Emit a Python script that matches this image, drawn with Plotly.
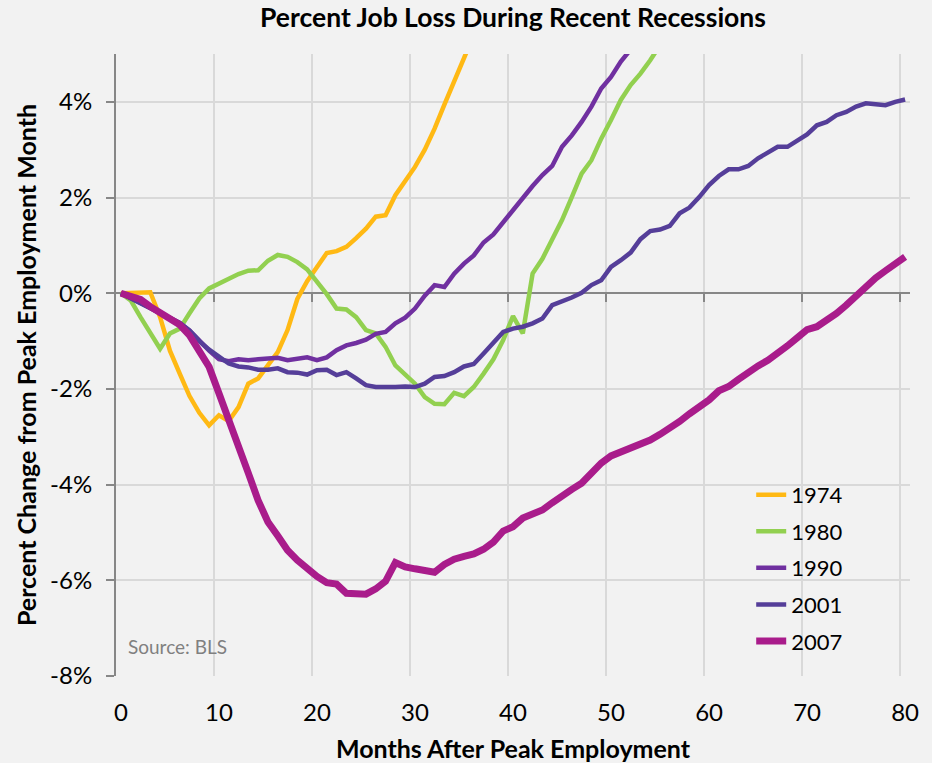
import plotly.graph_objects as go

months = list(range(0, 81))

job_1974 = [0, 0, 0, 0.02, -0.5, -1.2, -1.68, -2.15, -2.5, -2.76,
            -2.55, -2.67, -2.38, -1.89, -1.78, -1.5, -1.23, -0.77, -0.12, 0.25,
            0.55, 0.84, 0.88, 0.97, 1.15, 1.35, 1.6, 1.63, 2.05, 2.33,
            2.64, 3.0, 3.44, 3.94, 4.41, 4.89, 5.4]

job_1980 = [0, -0.15, -0.5, -0.84, -1.16, -0.84, -0.74, -0.42, -0.11, 0.1,
            0.2, 0.29, 0.4, 0.47, 0.48, 0.68, 0.8, 0.76, 0.65, 0.5,
            0.25, -0.02, -0.32, -0.34, -0.5, -0.77, -0.84, -1.12, -1.51, -1.71,
            -1.89, -2.17, -2.31, -2.32, -2.08, -2.15, -1.96, -1.68, -1.38, -0.98,
            -0.48, -0.84, 0.41, 0.72, 1.11, 1.53, 2.01, 2.5, 2.78, 3.23,
            3.62, 4.04, 4.35, 4.59, 4.87, 5.2, 5.5]

job_1990 = [0, -0.1, -0.2, -0.3, -0.4, -0.5, -0.62, -0.78, -1.0, -1.2,
            -1.38, -1.42, -1.38, -1.4, -1.38, -1.37, -1.35, -1.4, -1.38, -1.34,
            -1.4, -1.34, -1.19, -1.09, -1.04, -0.97, -0.85, -0.81, -0.63, -0.51,
            -0.32, -0.05, 0.17, 0.13, 0.41, 0.62, 0.79, 1.06, 1.23, 1.49,
            1.75, 2.01, 2.24, 2.47, 2.66, 3.06, 3.3, 3.58, 3.9, 4.28,
            4.52, 4.84, 5.1, 5.35]

job_2001 = [0, -0.1, -0.2, -0.3, -0.4, -0.5, -0.62, -0.78, -1.0, -1.18,
            -1.33, -1.47, -1.53, -1.55, -1.6, -1.6, -1.57, -1.65, -1.66, -1.7,
            -1.61, -1.6, -1.71, -1.65, -1.78, -1.92, -1.96, -1.97, -1.96, -1.95,
            -1.96, -1.89, -1.75, -1.73, -1.65, -1.53, -1.48, -1.26, -1.05, -0.81,
            -0.74, -0.7, -0.63, -0.53, -0.25, -0.18, -0.09, 0.01, 0.17, 0.27,
            0.55, 0.69, 0.85, 1.13, 1.3, 1.33, 1.41, 1.67, 1.79, 2.01,
            2.26, 2.45, 2.59, 2.59, 2.66, 2.82, 2.95, 3.06, 3.06, 3.2,
            3.32, 3.51, 3.58, 3.72, 3.79, 3.9, 3.97, 3.95, 3.93, 4.0,
            4.05]

job_2007 = [0, -0.06, -0.13, -0.28, -0.4, -0.5, -0.66, -0.88, -1.2, -1.54,
            -2.09, -2.62, -3.19, -3.76, -4.33, -4.78, -5.07, -5.37, -5.58, -5.77,
            -5.92, -6.05, -6.08, -6.27, -6.28, -6.29, -6.18, -6.02, -5.63, -5.72,
            -5.76, -5.79, -5.83, -5.67, -5.56, -5.5, -5.45, -5.35, -5.2, -4.97,
            -4.88, -4.7, -4.62, -4.53, -4.38, -4.22, -4.1, -3.97, -3.75, -3.55,
            -3.4, -3.32, -3.25, -3.18, -3.07, -2.95, -2.83, -2.68, -2.52, -2.38,
            -2.23, -2.04, -1.95, -1.8, -1.65, -1.52, -1.4, -1.26, -1.1, -0.93,
            -0.76, -0.7, -0.57, -0.42, -0.25, -0.05, 0.14, 0.32, 0.47, 0.6,
            0.76]

series_names = ["1974", "1980", "1990", "2001", "2007"]
series_values = [job_1974, job_1980, job_1990, job_2001, job_2007]
series_colors = ["#FFB914", "#92D050", "#7030A0", "#553E99", "#A91C8B"]
series_widths = [4.5, 4.5, 4.5, 4.5, 7]

y_tickvals = [-8, -6, -4, -2, 0, 2, 4]
y_ticktext = ["-8%", "-6%", "-4%", "-2%", "0%", "2%", "4%"]
x_tickvals = [0, 10, 20, 30, 40, 50, 60, 70, 80]
x_gridvals = [9.5, 19.5, 29.5, 39.5, 49.5, 59.5, 69.5, 79.5]

FONT = "Lato"
AXIS_GRAY = "#878787"
GRID = "#D9D9D9"
BG = "#F2F2F2"

fig = go.Figure()
for name, vals, col, w in zip(series_names, series_values, series_colors, series_widths):
    fig.add_trace(go.Scatter(
        x=months[:len(vals)], y=vals, mode="lines", name=name,
        legendgroup=name,
        line=dict(color=col, width=w),
    ))

# invisible helper trace for secondary x axis (grid + ticks on the 0% line)
fig.add_trace(go.Scatter(x=months, y=job_2001, xaxis="x2", mode="lines",
                         line=dict(width=0, color="rgba(0,0,0,0)"),
                         showlegend=False, hoverinfo="skip"))

fig.update_layout(
    width=932, height=763,
    margin=dict(l=116, r=22, t=54, b=87, autoexpand=False),
    paper_bgcolor=BG, plot_bgcolor=BG,
    font=dict(family=FONT, color="#000000"),
    title=dict(text="Percent Job Loss During Recent Recessions",
               font=dict(family=FONT, size=26.5, weight="bold", color="#000000"),
               x=0.5, xref="paper", xanchor="center",
               y=1 - 18 / 763, yanchor="middle", automargin=False),
    xaxis=dict(range=[-0.5, 80.5], tickvals=x_tickvals, showgrid=False,
               zeroline=False, showline=False, ticks="",
               ticklabelstandoff=20, automargin=False,
               tickfont=dict(family=FONT, size=24, color="#000000"),
               title=dict(text="Months After Peak Employment",
                          font=dict(family=FONT, size=25, weight="bold"),
                          standoff=16)),
    xaxis2=dict(range=[-0.5, 80.5], overlaying="x", anchor="free",
                position=8 / 13, tickvals=x_gridvals, showticklabels=False,
                ticks="outside", ticklen=8, tickwidth=2, tickcolor=AXIS_GRAY,
                showgrid=True, gridcolor=GRID, gridwidth=2, automargin=False,
                showline=False, zeroline=False, layer="below traces"),
    yaxis=dict(range=[-8, 5], tickvals=y_tickvals, ticktext=y_ticktext,
               showgrid=True, gridcolor=GRID, gridwidth=2,
               zeroline=True, zerolinecolor=AXIS_GRAY, zerolinewidth=2,
               showline=True, linecolor=AXIS_GRAY, linewidth=2,
               ticks="outside", ticklen=8, tickwidth=2, tickcolor=AXIS_GRAY,
               ticklabelstandoff=9, automargin=False,
               tickfont=dict(family=FONT, size=24, color="#000000"),
               title=dict(text="Percent Change from Peak Employment Month",
                          font=dict(family=FONT, size=25, weight="bold"),
                          standoff=6)),
    legend=dict(x=0.80, y=0.325, xanchor="left", yanchor="top",
                bgcolor="rgba(0,0,0,0)", traceorder="grouped",
                tracegroupgap=5,
                font=dict(family=FONT, size=22, color="#000000")),
    showlegend=True,
    annotations=[dict(text="Source: BLS", xref="paper", yref="paper",
                      x=0.012, y=0.048, xanchor="left", yanchor="middle",
                      showarrow=False,
                      font=dict(family=FONT, size=19, color="#808080"))],
)

fig.write_html("out.html")
